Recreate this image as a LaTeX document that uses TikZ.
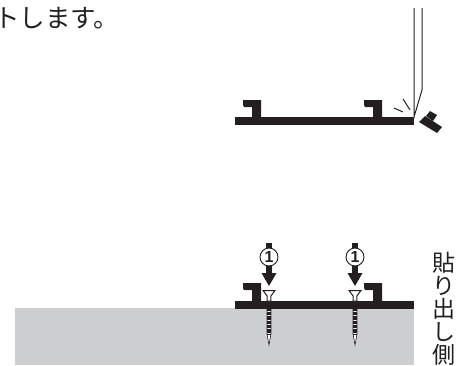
\documentclass[tikz,border=0pt]{standalone}
\usepackage{fontspec}
\newfontfamily\cjk{Noto Sans CJK JP}
\setsansfont{Liberation Sans}
\definecolor{wall}{HTML}{CDCFD1}
\definecolor{ink}{HTML}{231F20}
\begin{document}
\begin{tikzpicture}[x=1pt,y=-1pt]

\tikzstyle{solid} = [fill=ink, draw=none]
\tikzstyle{thin} = [draw=ink, line width=1pt]
\tikzstyle{num} = [draw=ink, fill=white, shape=circle, line width=0.9pt, inner sep=0pt, minimum size=18pt, font=\sffamily\bfseries\fontsize{16}{16}\selectfont, text=ink]
\tikzstyle{txt} = [text=ink, inner sep=0pt, font=\cjk]

\useasboundingbox (0,0) rectangle (463,365);

\node[txt, anchor=west, font=\cjk\fontsize{25.5}{25.5}\selectfont] (note) at (-6,18) {トします。};

% upper plate, cut
\fill[solid] (235,117) rectangle (414,125);
\foreach \x in {243,364}
	\fill[solid] (\x,100) -- (\x+18,100) -- (\x+18,117) -- (\x+9,117) -- (\x+9,107) -- (\x+1,107) -- (\x,105) -- cycle;

% knife
\coordinate (kt1) at (414,8);
\coordinate (kt2) at (422,8);
\coordinate (kb) at (422,90);
\coordinate (kp) at (414,117);
\draw[thin] (kt1) -- (kp) -- (kb) -- (kt2);
\draw[thin] (394,108) -- (403,112);
\draw[thin] (403,99) -- (410,110);

% cut off piece
\fill[solid] (419,122) -- (425,116) -- (442,127) -- (437,133) -- cycle;
\fill[solid] (426,116) -- (430,111) -- (437,115) -- (433,121) -- cycle;

% wall and lower plate
\fill[wall] (15,308) rectangle (414,365);
\fill[solid] (235,301) rectangle (414,309);
\foreach \x in {243,364}
	\fill[solid] (\x,283) -- (\x+18,283) -- (\x+18,301) -- (\x+9,301) -- (\x+9,290) -- (\x+1,290) -- (\x,288) -- cycle;

% screws with arrows
\foreach \x/\n in {269/a,355/b}{
	\fill[solid] (\x-3,243) rectangle (\x+3,273);
	\fill[solid] (\x-7.5,273) -- (\x+7.5,273) -- (\x,286) -- cycle;
	\node[num] (num\n) at (\x,257) {1};
	\draw[thin, fill=white] (\x-6,290.5) -- (\x+6,290.5) -- (\x+1.8,296) -- (\x+1.8,301) -- (\x-1.8,301) -- (\x-1.8,296) -- cycle;
	\fill[white] (\x-2,309) -- (\x-2,334) -- (\x,345) -- (\x+2,334) -- (\x+2,309) -- cycle;
	\draw[ink, line width=0.6pt] (\x-2,309) -- (\x-2,334) -- (\x,345) -- (\x+2,334) -- (\x+2,309);
	\draw[ink, line width=3.6pt, dash pattern=on 0.4pt off 0.9pt] (\x,309) -- (\x,334);
}

\node[txt, align=center, font=\cjk\fontsize{23}{23}\selectfont, anchor=north] (side) at (444,252) {貼\\り\\出\\し\\側};

\end{tikzpicture}
\end{document}
